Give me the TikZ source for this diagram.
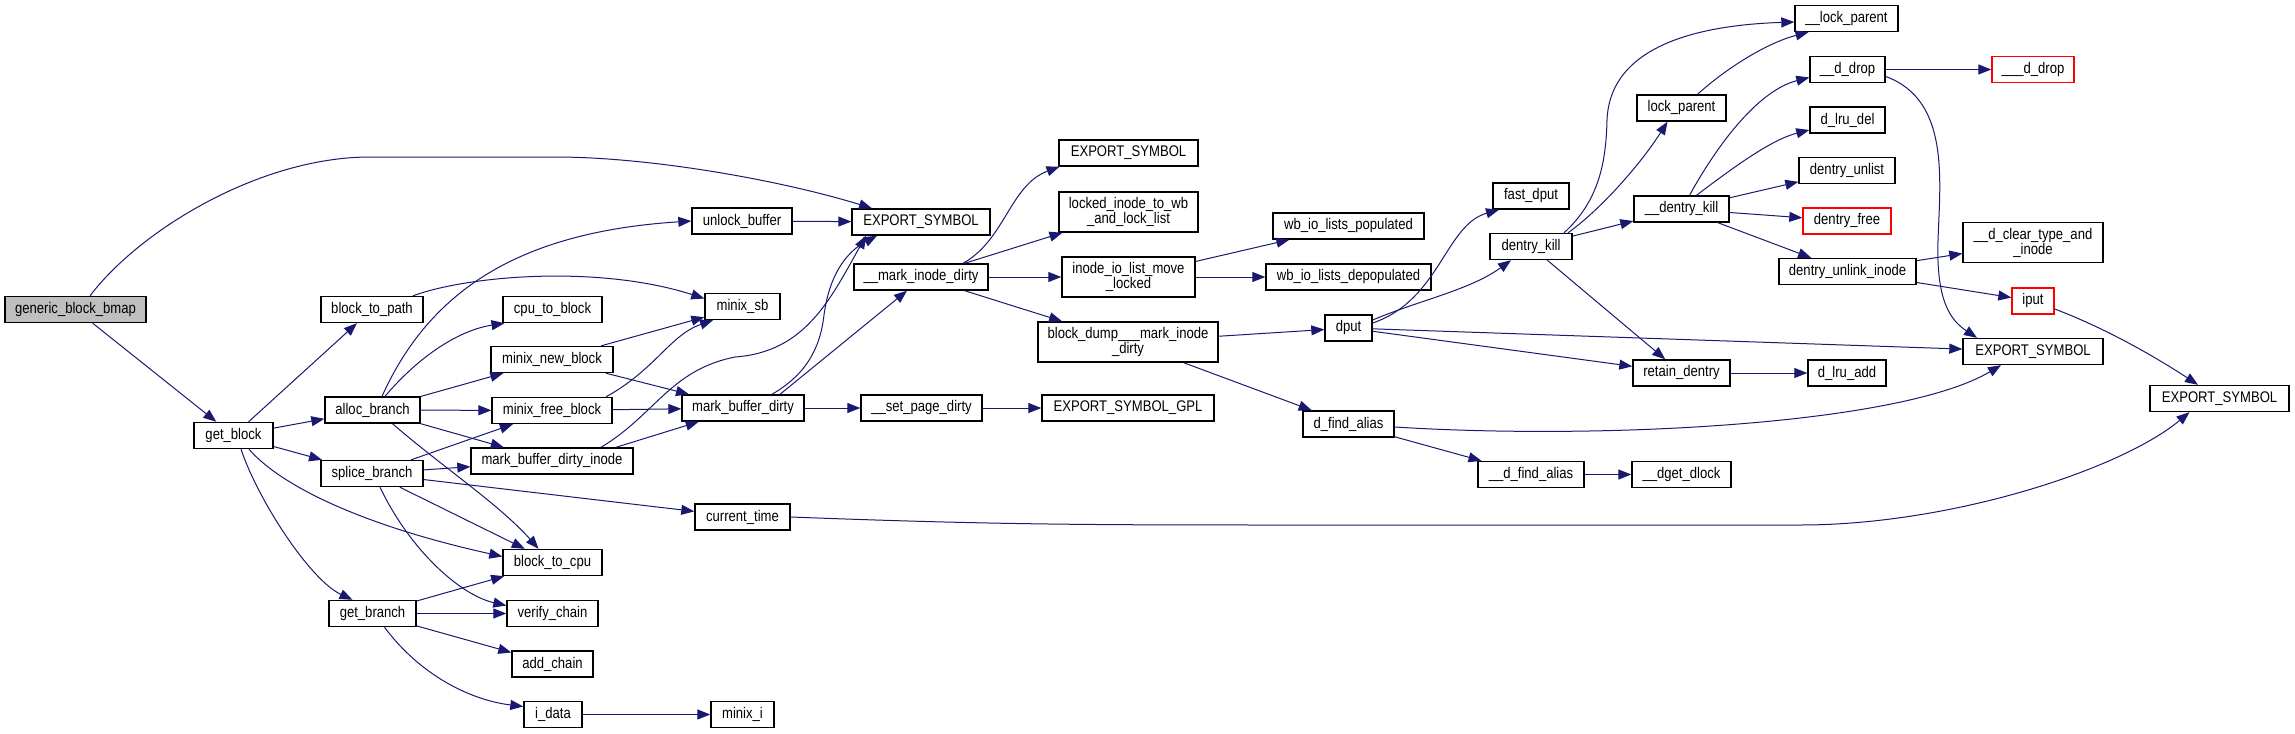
\documentclass[tikz,border=0pt]{standalone}
\usepackage{fontspec}
\setmainfont{Liberation Sans}[FakeStretch=0.85]
\usepackage{tikz}
\usetikzlibrary{arrows.meta}
\definecolor{edgeblue}{HTML}{191970}
\definecolor{rootgray}{HTML}{BFBFBF}
\definecolor{undocred}{HTML}{FF0000}

\begin{document}
\begin{tikzpicture}[
    x=0.5pt, y=-0.5pt,
    every node/.style={font=\fontsize{7.7}{7.5}\selectfont},
    fn/.style={rectangle, draw=black, fill=white, line width=0.7pt, inner sep=0pt, minimum height=13pt, minimum width=#1*0.5pt, align=center},
    fntwo/.style={fn=#1, minimum height=20pt},
    root/.style={fill=rootgray},
    undoc/.style={draw=undocred},
    arrow/.style={-{Triangle[length=6.5pt, width=5pt]}, line width=0.5pt, edgeblue}
]
\fill[white] (0,0) rectangle (2295,733);
\useasboundingbox (0,0) rectangle (2295,733);

\node[fn=141, root] (bmap) at (75.5,309.5) {generic\_block\_bmap};
\node[fn=79] (getblock) at (233.5,435.5) {get\_block};
\node[fn=102] (blocktopath) at (372,309.5) {block\_to\_path};
\node[fn=95] (allocbranch) at (372.5,410) {alloc\_branch};
\node[fn=102] (splicebranch) at (372,473.5) {splice\_branch};
\node[fn=87] (getbranch) at (372.5,613.5) {get\_branch};
\node[fn=99] (cputoblock) at (552.5,309.5) {cpu\_to\_block};
\node[fn=122] (newblock) at (552,359.5) {minix\_new\_block};
\node[fn=120] (freeblock) at (552,410.5) {minix\_free\_block};
\node[fn=162] (dirtyinode) at (552,461) {mark\_buffer\_dirty\_inode};
\node[fn=99] (blocktocpu) at (552.5,562.5) {block\_to\_cpu};
\node[fn=91] (verifychain) at (552.5,613.5) {verify\_chain};
\node[fn=81] (addchain) at (552.5,664) {add\_chain};
\node[fn=58] (idata) at (553,714.5) {i\_data};
\node[fn=63] (minixi) at (742.5,714.5) {minix\_i};
\node[fn=100] (unlockbuffer) at (742,221) {unlock\_buffer};
\node[fn=75] (minixsb) at (742.5,306.5) {minix\_sb};
\node[fn=122] (bufferdirty) at (743,408) {mark\_buffer\_dirty};
\node[fn=95] (currenttime) at (742.5,517) {current\_time};
\node[fn=138] (exportA) at (921,222) {EXPORT\_SYMBOL};
\node[fn=134] (inodedirty) at (921,277) {\_\_mark\_inode\_dirty};
\node[fn=121] (pagedirty) at (921.5,408) {\_\_set\_page\_dirty};
\node[fn=139] (exportB) at (1128.5,153) {EXPORT\_SYMBOL};
\node[fntwo=139] (lockedinode) at (1128.5,212) {locked\_inode\_to\_wb\\\_and\_lock\_list};
\node[fntwo=133] (listmove) at (1128.5,277) {inode\_io\_list\_move\\\_locked};
\node[fntwo=180] (blockdump) at (1128,342) {block\_dump\_\_\_mark\_inode\\\_dirty};
\node[fn=172] (exportgpl) at (1128,408) {EXPORT\_SYMBOL\_GPL};
\node[fn=151] (populated) at (1348.5,226) {wb\_io\_lists\_populated};
\node[fn=165] (depopulated) at (1348.5,277) {wb\_io\_lists\_depopulated};
\node[fn=47] (dput) at (1348.5,328) {dput};
\node[fn=91] (findalias) at (1348.5,424) {d\_find\_alias};
\node[fn=76] (fastdput) at (1531,196) {fast\_dput};
\node[fn=82] (dentrykill) at (1531,246.5) {dentry\_kill};
\node[fn=106] (findaliasu) at (1531,474.5) {\_\_d\_find\_alias};
\node[fn=89] (lockparent) at (1681.5,108) {lock\_parent};
\node[fn=95] (dentrykillu) at (1681.5,209) {\_\_dentry\_kill};
\node[fn=97] (retaindentry) at (1681.5,373) {retain\_dentry};
\node[fn=99] (dgetdlock) at (1681.5,474.5) {\_\_dget\_dlock};
\node[fn=103] (lockparentu) at (1846.5,18.5) {\_\_lock\_parent};
\node[fn=75] (ddrop) at (1847.5,69.5) {\_\_d\_drop};
\node[fn=75] (lrudel) at (1847.5,120) {d\_lru\_del};
\node[fn=96] (dentryunlist) at (1847,170.5) {dentry\_unlist};
\node[fn=88, undoc] (dentryfree) at (1847,221) {dentry\_free};
\node[fn=137] (unlinkinode) at (1847.5,271.5) {dentry\_unlink\_inode};
\node[fn=78] (lruadd) at (1847,373) {d\_lru\_add};
\node[fn=82, undoc] (ddropu) at (2033,69.5) {\_\_\_d\_drop};
\node[fntwo=140] (cleartype) at (2033,242.5) {\_\_d\_clear\_type\_and\\\_inode};
\node[fn=42, undoc] (iput) at (2033,301) {iput};
\node[fn=140] (exportC) at (2033,351.5) {EXPORT\_SYMBOL};
\node[fn=139] (exportD) at (2219.5,398.5) {EXPORT\_SYMBOL};

% straight calls
\draw[arrow] (bmap) -- (getblock);
\draw[arrow] (getblock) -- (blocktopath);
\draw[arrow] (getblock) -- (allocbranch);
\draw[arrow] (getblock) -- (splicebranch);
\draw[arrow] (allocbranch) -- (newblock);
\draw[arrow] (allocbranch) -- (freeblock);
\draw[arrow] (allocbranch) -- (dirtyinode);
\draw[arrow] (splicebranch) -- (freeblock);
\draw[arrow] (splicebranch) -- (dirtyinode);
\draw[arrow] (splicebranch) -- (currenttime);
\draw[arrow] (splicebranch) -- (blocktocpu);
\draw[arrow] (getbranch) -- (blocktocpu);
\draw[arrow] (getbranch) -- (verifychain);
\draw[arrow] (getbranch) -- (addchain);
\draw[arrow] (idata) -- (minixi);
\draw[arrow] (newblock) -- (minixsb);
\draw[arrow] (newblock) -- (bufferdirty);
\draw[arrow] (freeblock) -- (bufferdirty);
\draw[arrow] ([xshift=32pt]dirtyinode.north) -- (bufferdirty);
\draw[arrow] (unlockbuffer) -- (exportA);
\draw[arrow] ([xshift=18.5pt]bufferdirty.north) -- ([xshift=-7pt]inodedirty.south);
\draw[arrow] (bufferdirty) -- (pagedirty);
\draw[arrow] (pagedirty) -- (exportgpl);
\draw[arrow] (inodedirty) -- (lockedinode);
\draw[arrow] (inodedirty) -- (listmove);
\draw[arrow] (inodedirty) -- (blockdump);
\draw[arrow] (listmove) -- (populated);
\draw[arrow] (listmove) -- (depopulated);
\draw[arrow] (blockdump) -- (dput);
\draw[arrow] (blockdump) -- (findalias);
\draw[arrow] (dput) -- (exportC);
\draw[arrow] (dput) -- (retaindentry);
\draw[arrow] (dentrykill) -- (dentrykillu);
\draw[arrow] (dentrykill) -- (retaindentry);
\draw[arrow] (dentrykillu) -- (dentryunlist);
\draw[arrow] (dentrykillu) -- (dentryfree);
\draw[arrow] (dentrykillu) -- (unlinkinode);
\draw[arrow] (ddrop) -- (ddropu);
\draw[arrow] (unlinkinode) -- (cleartype);
\draw[arrow] (unlinkinode) -- (iput);
\draw[arrow] (retaindentry) -- (lruadd);
\draw[arrow] (findalias) -- (findaliasu);
\draw[arrow] (findaliasu) -- (dgetdlock);

% curved calls
\draw[arrow] ([xshift=7.25pt]bmap.north) .. controls (140,230) and (260,157) .. (370,157) -- (555,157) .. controls (650,157) and (780,180) .. ([xshift=-24.5pt]exportA.north);
\draw[arrow] ([xshift=7.75pt]getblock.south) .. controls (280,485) and (360,525) .. ([yshift=3pt]blocktocpu.west);
\draw[arrow] ([xshift=3.75pt]getblock.south) .. controls (258,500) and (310,580) .. ([xshift=-10pt]getbranch.north);
\draw[arrow] ([xshift=20.5pt]blocktopath.north) .. controls (470,275) and (600,265) .. ([yshift=4pt]minixsb.west);
\draw[arrow] ([xshift=4.75pt]allocbranch.north) .. controls (430,290) and (520,232) .. (unlockbuffer.west);
\draw[arrow] ([xshift=6.25pt]allocbranch.north) .. controls (420,355) and (460,330) .. ([xshift=-24pt]cputoblock.south);
\draw[arrow] ([xshift=10pt]allocbranch.south) .. controls (440,465) and (500,505) .. ([xshift=-7pt]blocktocpu.north);
\draw[arrow] ([xshift=4pt]splicebranch.south) .. controls (410,550) and (460,595) .. ([yshift=4pt]verifychain.west);
\draw[arrow] ([xshift=6pt]getbranch.south) .. controls (420,675) and (470,700) .. ([yshift=4pt]idata.west);
\draw[arrow] ([xshift=27pt]freeblock.north) .. controls (655,370) and (670,335) .. ([xshift=-14.75pt]minixsb.south);
\draw[arrow] ([xshift=24.5pt]dirtyinode.north) .. controls (655,415) and (670,370) .. (735,357) .. controls (805,352) and (830,300) .. ([xshift=-27.5pt]exportA.south);
\draw[arrow] ([xshift=14.5pt]bufferdirty.north) .. controls (805,375) and (820,350) .. (824,315) .. controls (830,270) and (850,250) .. ([xshift=-22pt]exportA.south);
\draw[arrow] ([xshift=21pt]inodedirty.north) .. controls (1005,240) and (1010,185) .. ([xshift=-34.5pt]exportB.south);
\draw[arrow] ([yshift=2.5pt]dput.east) .. controls (1440,300) and (1445,225) .. ([xshift=-16pt]fastdput.south);
\draw[arrow] ([yshift=4pt]dput.east) .. controls (1420,300) and (1470,290) .. ([xshift=-10pt]dentrykill.south);
\draw[arrow] ([xshift=16.5pt]dentrykill.north) .. controls (1600,200) and (1606,160) .. (1607,120) .. controls (1610,45) and (1700,25) .. ([yshift=-1.75pt]lockparentu.west);
\draw[arrow] ([xshift=18.5pt]dentrykill.north) .. controls (1600,210) and (1640,165) .. ([xshift=-7pt]lockparent.south);
\draw[arrow] ([xshift=8pt]lockparent.north) .. controls (1730,65) and (1770,42) .. ([xshift=-19pt]lockparentu.south);
\draw[arrow] ([xshift=4pt]dentrykillu.north) .. controls (1720,140) and (1760,90) .. ([yshift=-4pt]ddrop.west);
\draw[arrow] ([xshift=7.5pt]dentrykillu.north) .. controls (1730,170) and (1770,140) .. ([yshift=-5pt]lrudel.west);
\draw[arrow] ([yshift=-3.5pt]ddrop.east) .. controls (1950,100) and (1940,180) .. (1938,240) .. controls (1936,300) and (1950,320) .. ([xshift=-28pt]exportC.north);
\draw[arrow] ([yshift=-4pt]iput.east) .. controls (2110,330) and (2160,360) .. ([xshift=-10.75pt]exportD.north);
\draw[arrow] ([yshift=-1.5pt]findalias.east) .. controls (1600,440) and (1900,425) .. ([xshift=-16pt]exportC.south);
\draw[arrow] (currenttime.east) .. controls (1000,525) and (1100,525) .. (1300,525) -- (1800,525) .. controls (1950,525) and (2120,470) .. ([xshift=-15pt]exportD.south);

\end{tikzpicture}
\end{document}
